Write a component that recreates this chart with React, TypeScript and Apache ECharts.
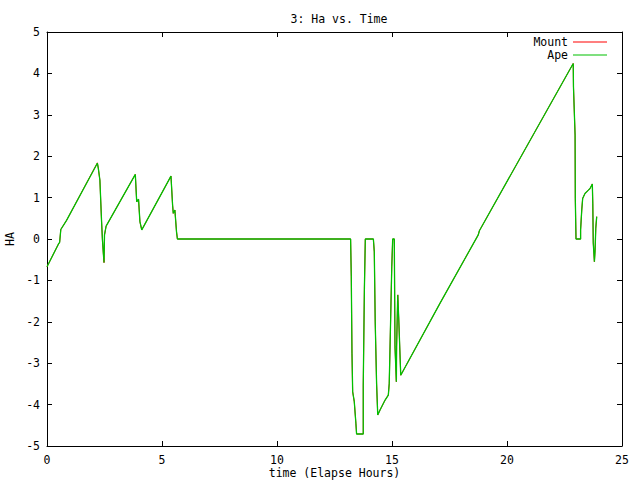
import React, { useEffect, useRef } from "react";
import * as echarts from "echarts";

const titleText = "3: Ha vs. Time";
const xAxisTitle = "time (Elapse Hours)";
const yAxisTitle = "HA";
const seriesNames = ["Mount", "Ape"];

const timeHours = [
  0.0, 0.5, 0.55, 0.6, 0.85, 2.19, 2.23, 2.3, 2.37, 2.41, 2.45, 2.48, 2.5, 2.57,
  3.84, 3.9, 3.98, 4.04, 4.12, 5.39, 5.46, 5.49, 5.56, 5.63, 5.67, 13.2, 13.23,
  13.26, 13.29, 13.36, 13.43, 13.46, 13.75, 13.75, 13.8, 13.84, 14.19, 14.23,
  14.27, 14.33, 14.38, 14.48, 14.7, 14.84, 14.88, 14.94, 14.99, 15.03, 15.1,
  15.13, 15.19, 15.2, 15.25, 15.29, 15.38, 17.09, 18.75, 18.8, 22.88, 22.89,
  22.96, 22.97, 23.0, 23.2, 23.2, 23.25, 23.29, 23.39, 23.54, 23.61, 23.71,
  23.73, 23.75, 23.8, 23.83, 23.86, 23.9,
];

const apeHa = [
  -0.67, -0.12, -0.08, 0.23, 0.45, 1.83, 1.71, 1.42, 0.46, -0.02, -0.35, -0.57,
  0.1, 0.31, 1.56, 0.9, 0.96, 0.42, 0.22, 1.52, 0.82, 0.62, 0.7, 0.18, 0, 0,
  -0.91, -2.76, -3.69, -3.93, -4.45, -4.71, -4.71, -3.53, -1.19, 0, 0, -0.31,
  -2.0, -3.49, -4.25, -4.13, -3.89, -3.77, -3.49, -1.96, -0.67, 0, 0, -2.6,
  -3.45, -2.6, -1.35, -1.88, -3.29, -1.55, 0.1, 0.2, 4.24, 3.68, 2.51, 0.98, 0,
  0, 0.22, 0.7, 0.98, 1.1, 1.18, 1.22, 1.33, 0.86, -0.09, -0.55, -0.27, 0.26,
  0.54,
];

const mountHa = [
  -0.67, -0.12, -0.08, 0.23, 0.45, 1.84, 1.71, 1.42, 0.46, -0.02, -0.35, -0.57,
  0.1, 0.31, 1.56, 0.9, 0.96, 0.42, 0.22, 1.52, 0.82, 0.62, 0.7, 0.18, 0, 0,
  -0.91, -2.76, -3.69, -3.93, -4.45, -4.71, -4.71, -3.53, -1.19, 0, 0, -0.31,
  -2.0, -3.49, -4.25, -4.13, -3.89, -3.77, -3.49, -1.96, -0.67, 0, 0, -2.6,
  -3.45, -2.6, -1.35, -1.88, -3.29, -1.55, 0.1, 0.2, 4.24, 3.68, 2.51, 0.98, 0,
  0, 0.22, 0.7, 0.98, 1.1, 1.18, 1.22, 1.33, 0.86, -0.09, -0.55, -0.27, 0.26,
  0.54,
];

const FONT = "DejaVu Sans Mono";
const FS = 11.5;

export default function App() {
  const ref = useRef<HTMLDivElement>(null);
  useEffect(() => {
    if (!ref.current) return;
    const chart = echarts.init(ref.current, null, { renderer: "svg" });
    const axisCommon = {
      type: "value" as const,
      axisLine: { show: true, onZero: false, lineStyle: { color: "#000", width: 1 } },
      axisTick: { show: true, inside: true, length: 5, lineStyle: { color: "#000" } },
      splitLine: { show: false },
    };
    chart.setOption({
      animation: false,
      backgroundColor: "#fff",
      title: {
        text: titleText,
        left: 334,
        top: 8,
        textAlign: "center",
        textStyle: { fontFamily: FONT, fontSize: FS, fontWeight: "normal", color: "#000" },
      },
      legend: {
        data: seriesNames,
        orient: "vertical",
        right: 28,
        top: 31,
        align: "right",
        itemWidth: 34,
        itemHeight: 1,
        itemGap: 1,
        icon: "rect",
        textStyle: { fontFamily: FONT, fontSize: FS, color: "#000", lineHeight: 11 },
      },
      grid: {
        left: 47,
        top: 32,
        width: 575,
        height: 414,
        containLabel: false,
        outerBoundsMode: "none",
      },
      xAxis: [
        {
          ...axisCommon,
          position: "bottom",
          min: 0,
          max: 25,
          interval: 5,
          name: xAxisTitle,
          nameLocation: "middle",
          nameGap: 21,
          nameMoveOverlap: false,
          nameTextStyle: { fontFamily: FONT, fontSize: FS, color: "#000" },
          axisLabel: { fontFamily: FONT, fontSize: FS, color: "#000", margin: 8 },
        },
        {
          ...axisCommon,
          position: "top",
          min: 0,
          max: 25,
          interval: 5,
          axisLabel: { show: false },
        },
      ],
      yAxis: [
        {
          ...axisCommon,
          position: "left",
          min: -5,
          max: 5,
          interval: 1,
          name: yAxisTitle,
          nameLocation: "middle",
          nameGap: 31,
          nameMoveOverlap: false,
          nameTextStyle: { fontFamily: FONT, fontSize: FS, color: "#000" },
          axisLabel: { fontFamily: FONT, fontSize: FS, color: "#000", margin: 7 },
        },
        {
          ...axisCommon,
          position: "right",
          min: -5,
          max: 5,
          interval: 1,
          axisLabel: { show: false },
        },
      ],
      series: [
        {
          name: seriesNames[0],
          type: "line",
          data: timeHours.map((t, i) => [t, mountHa[i]]),
          showSymbol: false,
          symbol: "none",
          color: "#ff0000",
          lineStyle: { color: "#ff0000", width: 1 },
          z: 2,
        },
        {
          name: seriesNames[1],
          type: "line",
          data: timeHours.map((t, i) => [t, apeHa[i]]),
          showSymbol: false,
          symbol: "none",
          color: "#00c000",
          lineStyle: { color: "#00c000", width: 1.3 },
          z: 3,
        },
      ],
    });
    return () => chart.dispose();
  }, []);
  return (
    <div
      ref={ref}
      style={{ position: "fixed", left: 0, top: 0, width: 640, height: 480 }}
    />
  );
}
